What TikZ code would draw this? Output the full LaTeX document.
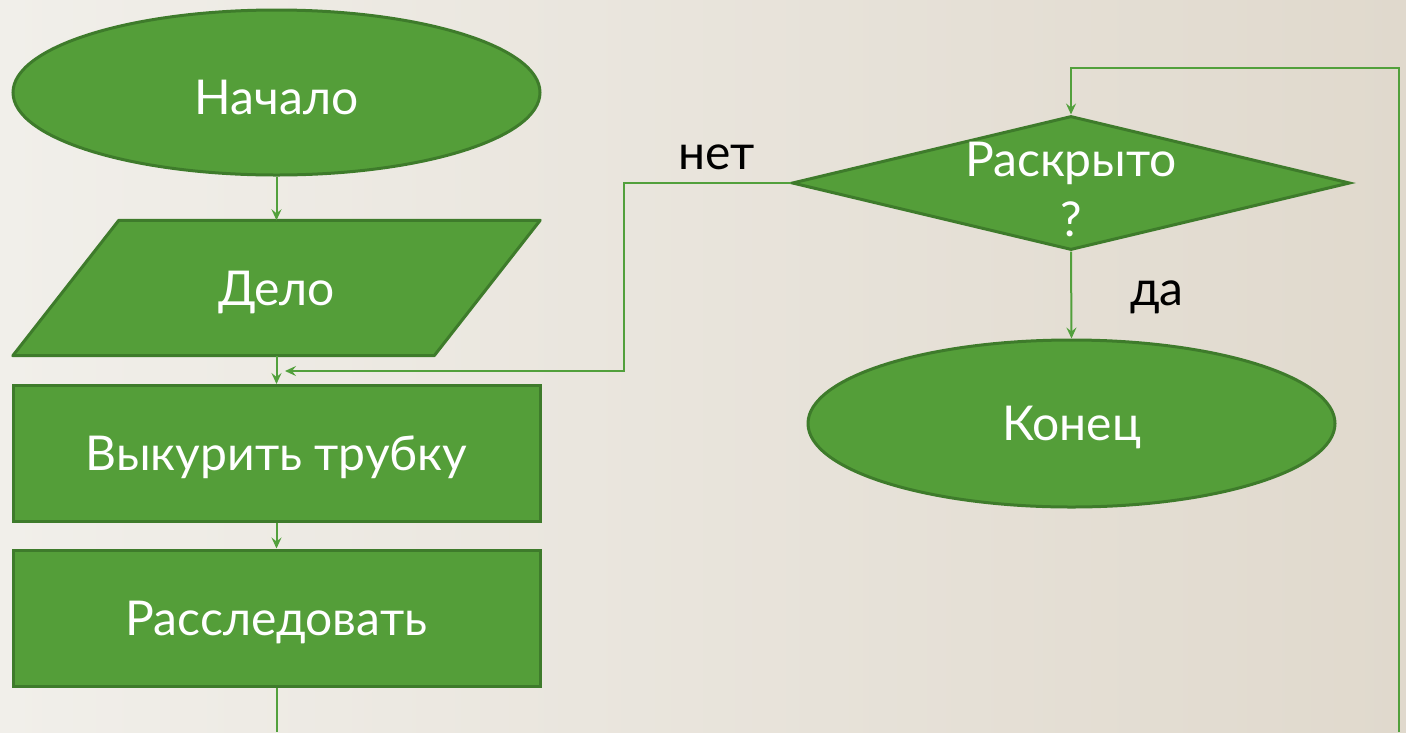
\documentclass[tikz,border=0pt]{standalone}
\usepackage{fontspec}
\setmainfont{Lato}
\usetikzlibrary{shapes.geometric,arrows.meta}
\pgfdeclarelayer{back}
\pgfdeclarelayer{mid}
\pgfsetlayers{back,mid,main}
\definecolor{bgA}{HTML}{F1EFEA}
\definecolor{bgB}{HTML}{E0D9CD}
\definecolor{gfill}{HTML}{549E39}
\definecolor{gdraw}{HTML}{3E7B2B}
\definecolor{gline}{HTML}{52A03C}
\begin{document}
\begin{tikzpicture}[x=1pt,y=-1pt,
  shapebox/.style={fill=gfill, draw=gdraw, line width=3pt, inner sep=0pt, text=white, font=\fontsize{48}{60}\selectfont, text height=34pt, text depth=0pt},
  terminal/.style={shapebox, ellipse, minimum width=527pt, minimum height=165pt},
  process/.style={shapebox, rectangle, minimum width=527pt, minimum height=136pt},
  iobox/.style={rectangle, draw=none, fill=none, inner sep=0pt, text=white, font=\fontsize{48}{60}\selectfont, text height=34pt, text depth=0pt, minimum width=527pt, minimum height=135pt},
  decision/.style={shapebox, diamond, minimum width=558pt, minimum height=134pt},
  conn/.style={draw=gline, line width=2pt},
  arr/.style={conn, -{Stealth[length=11pt,width=10pt,inset=4pt]}},
  lbl/.style={text=black, font=\fontsize{48}{60}\selectfont, inner sep=0pt, text height=24pt, text depth=0pt}
]
\useasboundingbox (0,0) rectangle (1406,732);
\begin{pgfonlayer}{back}
\shade[left color=bgA, right color=bgB] (0,0) rectangle (1406,732);
\end{pgfonlayer}

% nodes
\node[terminal, text height=44pt] (start) at (276.5,92.5) {Начало};
\node[iobox] (delo) at (276.5,288) {Дело};
\begin{pgfonlayer}{mid}
\filldraw[fill=gfill, draw=gdraw, line width=3pt, line join=round]
  ([xshift=106pt]delo.north west) -- (delo.north east) -- ([xshift=-106pt]delo.south east) -- (delo.south west) -- cycle;
\end{pgfonlayer}
\node[process] (smoke) at (276.5,453.5) {Выкурить трубку};
\node[process] (invest) at (276.5,618) {Расследовать};
\node[decision] (dec) at (1071,183) {};
\node[font=\fontsize{48}{60}\selectfont, text=white, inner sep=0pt, align=center] (dectext) at (1071,189) {Раскрыто\\?};
\node[terminal, minimum height=167pt] (end) at (1071.5,423.5) {Конец};

% free ends
\coordinate (bl) at (276.5,732);
\coordinate (br) at (1399,732);
\coordinate (tr) at (1399,68);
\coordinate (bend) at (624,371);
\coordinate (join) at (285,371);

% connectors
\draw[arr] (start) -- (delo);
\draw[arr] (delo) -- (smoke);
\draw[arr] (smoke) -- (invest);
\draw[conn] (invest.south) -- (bl);
\draw[arr] (dec.west) -| (bend) -- (join);
\draw[arr] (dec.south) -- (end.north);
\draw[arr] (br) -- (tr) -| (dec.north);

% labels
\node[lbl] (no) at (717,157) {нет};
\node[lbl] (yes) at (1157,293) {да};
\end{tikzpicture}
\end{document}
